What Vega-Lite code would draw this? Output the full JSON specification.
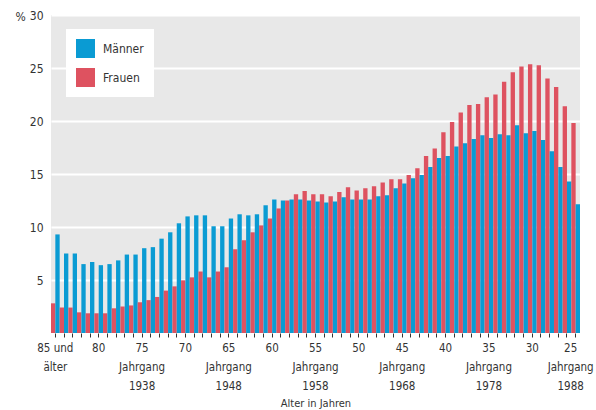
{
  "$schema": "https://vega.github.io/schema/vega-lite/v6.json",
  "width": 529,
  "height": 318,
  "autosize": {"type": "none"},
  "padding": {"left": 51, "top": 15, "right": 16, "bottom": 77},
  "background": "white",
  "config": {
    "font": "DejaVu Sans Condensed, Liberation Sans Narrow, Roboto, sans-serif",
    "view": {"fill": "#e8e8e8", "stroke": null},
    "axis": {"labelColor": "#333333", "titleColor": "#333333", "labelFont": "DejaVu Sans Condensed, Liberation Sans Narrow, Roboto, sans-serif", "titleFont": "DejaVu Sans Condensed, Liberation Sans Narrow, Roboto, sans-serif"},
    "legend": {"labelFont": "DejaVu Sans Condensed, Liberation Sans Narrow, Roboto, sans-serif"}
  },
  "data": {
    "values": [
      {"Alter": "85", "Geschlecht": "Frauen", "Anteil": 2.8}, {"Alter": "85", "Geschlecht": "Männer", "Anteil": 9.3},
      {"Alter": "84", "Geschlecht": "Frauen", "Anteil": 2.4}, {"Alter": "84", "Geschlecht": "Männer", "Anteil": 7.5},
      {"Alter": "83", "Geschlecht": "Frauen", "Anteil": 2.4}, {"Alter": "83", "Geschlecht": "Männer", "Anteil": 7.5},
      {"Alter": "82", "Geschlecht": "Frauen", "Anteil": 1.95}, {"Alter": "82", "Geschlecht": "Männer", "Anteil": 6.5},
      {"Alter": "81", "Geschlecht": "Frauen", "Anteil": 1.86}, {"Alter": "81", "Geschlecht": "Männer", "Anteil": 6.7},
      {"Alter": "80", "Geschlecht": "Frauen", "Anteil": 1.86}, {"Alter": "80", "Geschlecht": "Männer", "Anteil": 6.4},
      {"Alter": "79", "Geschlecht": "Frauen", "Anteil": 1.86}, {"Alter": "79", "Geschlecht": "Männer", "Anteil": 6.5},
      {"Alter": "78", "Geschlecht": "Frauen", "Anteil": 2.33}, {"Alter": "78", "Geschlecht": "Männer", "Anteil": 6.85},
      {"Alter": "77", "Geschlecht": "Frauen", "Anteil": 2.5}, {"Alter": "77", "Geschlecht": "Männer", "Anteil": 7.4},
      {"Alter": "76", "Geschlecht": "Frauen", "Anteil": 2.6}, {"Alter": "76", "Geschlecht": "Männer", "Anteil": 7.4},
      {"Alter": "75", "Geschlecht": "Frauen", "Anteil": 2.9}, {"Alter": "75", "Geschlecht": "Männer", "Anteil": 8.0},
      {"Alter": "74", "Geschlecht": "Frauen", "Anteil": 3.1}, {"Alter": "74", "Geschlecht": "Männer", "Anteil": 8.1},
      {"Alter": "73", "Geschlecht": "Frauen", "Anteil": 3.4}, {"Alter": "73", "Geschlecht": "Männer", "Anteil": 8.9},
      {"Alter": "72", "Geschlecht": "Frauen", "Anteil": 4.0}, {"Alter": "72", "Geschlecht": "Männer", "Anteil": 9.5},
      {"Alter": "71", "Geschlecht": "Frauen", "Anteil": 4.4}, {"Alter": "71", "Geschlecht": "Männer", "Anteil": 10.35},
      {"Alter": "70", "Geschlecht": "Frauen", "Anteil": 4.97}, {"Alter": "70", "Geschlecht": "Männer", "Anteil": 11.0},
      {"Alter": "69", "Geschlecht": "Frauen", "Anteil": 5.25}, {"Alter": "69", "Geschlecht": "Männer", "Anteil": 11.1},
      {"Alter": "68", "Geschlecht": "Frauen", "Anteil": 5.8}, {"Alter": "68", "Geschlecht": "Männer", "Anteil": 11.1},
      {"Alter": "67", "Geschlecht": "Frauen", "Anteil": 5.25}, {"Alter": "67", "Geschlecht": "Männer", "Anteil": 10.07},
      {"Alter": "66", "Geschlecht": "Frauen", "Anteil": 5.8}, {"Alter": "66", "Geschlecht": "Männer", "Anteil": 10.07},
      {"Alter": "65", "Geschlecht": "Frauen", "Anteil": 6.2}, {"Alter": "65", "Geschlecht": "Männer", "Anteil": 10.8},
      {"Alter": "64", "Geschlecht": "Frauen", "Anteil": 7.9}, {"Alter": "64", "Geschlecht": "Männer", "Anteil": 11.2},
      {"Alter": "63", "Geschlecht": "Frauen", "Anteil": 8.75}, {"Alter": "63", "Geschlecht": "Männer", "Anteil": 11.1},
      {"Alter": "62", "Geschlecht": "Frauen", "Anteil": 9.5}, {"Alter": "62", "Geschlecht": "Männer", "Anteil": 11.2},
      {"Alter": "61", "Geschlecht": "Frauen", "Anteil": 10.15}, {"Alter": "61", "Geschlecht": "Männer", "Anteil": 12.05},
      {"Alter": "60", "Geschlecht": "Frauen", "Anteil": 10.8}, {"Alter": "60", "Geschlecht": "Männer", "Anteil": 12.6},
      {"Alter": "59", "Geschlecht": "Frauen", "Anteil": 11.75}, {"Alter": "59", "Geschlecht": "Männer", "Anteil": 12.5},
      {"Alter": "58", "Geschlecht": "Frauen", "Anteil": 12.5}, {"Alter": "58", "Geschlecht": "Männer", "Anteil": 12.6},
      {"Alter": "57", "Geschlecht": "Frauen", "Anteil": 13.1}, {"Alter": "57", "Geschlecht": "Männer", "Anteil": 12.6},
      {"Alter": "56", "Geschlecht": "Frauen", "Anteil": 13.4}, {"Alter": "56", "Geschlecht": "Männer", "Anteil": 12.5},
      {"Alter": "55", "Geschlecht": "Frauen", "Anteil": 13.1}, {"Alter": "55", "Geschlecht": "Männer", "Anteil": 12.4},
      {"Alter": "54", "Geschlecht": "Frauen", "Anteil": 13.1}, {"Alter": "54", "Geschlecht": "Männer", "Anteil": 12.3},
      {"Alter": "53", "Geschlecht": "Frauen", "Anteil": 12.9}, {"Alter": "53", "Geschlecht": "Männer", "Anteil": 12.4},
      {"Alter": "52", "Geschlecht": "Frauen", "Anteil": 13.3}, {"Alter": "52", "Geschlecht": "Männer", "Anteil": 12.8},
      {"Alter": "51", "Geschlecht": "Frauen", "Anteil": 13.75}, {"Alter": "51", "Geschlecht": "Männer", "Anteil": 12.6},
      {"Alter": "50", "Geschlecht": "Frauen", "Anteil": 13.45}, {"Alter": "50", "Geschlecht": "Männer", "Anteil": 12.6},
      {"Alter": "49", "Geschlecht": "Frauen", "Anteil": 13.65}, {"Alter": "49", "Geschlecht": "Männer", "Anteil": 12.6},
      {"Alter": "48", "Geschlecht": "Frauen", "Anteil": 13.85}, {"Alter": "48", "Geschlecht": "Männer", "Anteil": 12.9},
      {"Alter": "47", "Geschlecht": "Frauen", "Anteil": 14.2}, {"Alter": "47", "Geschlecht": "Männer", "Anteil": 13.0},
      {"Alter": "46", "Geschlecht": "Frauen", "Anteil": 14.5}, {"Alter": "46", "Geschlecht": "Männer", "Anteil": 13.65},
      {"Alter": "45", "Geschlecht": "Frauen", "Anteil": 14.5}, {"Alter": "45", "Geschlecht": "Männer", "Anteil": 14.1},
      {"Alter": "44", "Geschlecht": "Frauen", "Anteil": 14.9}, {"Alter": "44", "Geschlecht": "Männer", "Anteil": 14.6},
      {"Alter": "43", "Geschlecht": "Frauen", "Anteil": 15.55}, {"Alter": "43", "Geschlecht": "Männer", "Anteil": 14.9},
      {"Alter": "42", "Geschlecht": "Frauen", "Anteil": 16.7}, {"Alter": "42", "Geschlecht": "Männer", "Anteil": 15.65},
      {"Alter": "41", "Geschlecht": "Frauen", "Anteil": 17.4}, {"Alter": "41", "Geschlecht": "Männer", "Anteil": 16.5},
      {"Alter": "40", "Geschlecht": "Frauen", "Anteil": 18.95}, {"Alter": "40", "Geschlecht": "Männer", "Anteil": 16.7},
      {"Alter": "39", "Geschlecht": "Frauen", "Anteil": 19.9}, {"Alter": "39", "Geschlecht": "Männer", "Anteil": 17.6},
      {"Alter": "38", "Geschlecht": "Frauen", "Anteil": 20.8}, {"Alter": "38", "Geschlecht": "Männer", "Anteil": 17.9},
      {"Alter": "37", "Geschlecht": "Frauen", "Anteil": 21.5}, {"Alter": "37", "Geschlecht": "Männer", "Anteil": 18.3},
      {"Alter": "36", "Geschlecht": "Frauen", "Anteil": 21.6}, {"Alter": "36", "Geschlecht": "Männer", "Anteil": 18.65},
      {"Alter": "35", "Geschlecht": "Frauen", "Anteil": 22.25}, {"Alter": "35", "Geschlecht": "Männer", "Anteil": 18.4},
      {"Alter": "34", "Geschlecht": "Frauen", "Anteil": 22.5}, {"Alter": "34", "Geschlecht": "Männer", "Anteil": 18.75},
      {"Alter": "33", "Geschlecht": "Frauen", "Anteil": 23.7}, {"Alter": "33", "Geschlecht": "Männer", "Anteil": 18.65},
      {"Alter": "32", "Geschlecht": "Frauen", "Anteil": 24.6}, {"Alter": "32", "Geschlecht": "Männer", "Anteil": 19.6},
      {"Alter": "31", "Geschlecht": "Frauen", "Anteil": 25.15}, {"Alter": "31", "Geschlecht": "Männer", "Anteil": 18.85},
      {"Alter": "30", "Geschlecht": "Frauen", "Anteil": 25.35}, {"Alter": "30", "Geschlecht": "Männer", "Anteil": 19.05},
      {"Alter": "29", "Geschlecht": "Frauen", "Anteil": 25.25}, {"Alter": "29", "Geschlecht": "Männer", "Anteil": 18.2},
      {"Alter": "28", "Geschlecht": "Frauen", "Anteil": 24.0}, {"Alter": "28", "Geschlecht": "Männer", "Anteil": 17.15},
      {"Alter": "27", "Geschlecht": "Frauen", "Anteil": 23.2}, {"Alter": "27", "Geschlecht": "Männer", "Anteil": 15.65},
      {"Alter": "26", "Geschlecht": "Frauen", "Anteil": 21.4}, {"Alter": "26", "Geschlecht": "Männer", "Anteil": 14.3},
      {"Alter": "25", "Geschlecht": "Frauen", "Anteil": 19.8}, {"Alter": "25", "Geschlecht": "Männer", "Anteil": 12.15}
    ]
  },
  "mark": {"type": "bar"},
  "encoding": {
    "x": {
      "field": "Alter",
      "type": "ordinal",
      "sort": "descending",
      "scale": {"paddingInner": 0, "paddingOuter": 0},
      "axis": {
        "title": "Alter in Jahren",
        "titleFontSize": 11,
        "titleFontWeight": "normal",
        "titlePadding": 6,
        "labelAngle": 0,
        "labelFontSize": 11.5,
        "labelLineHeight": 19,
        "labelPadding": 5,
        "labelOverlap": false,
        "labelBound": false,
        "labelBaseline": "top",
        "labelOffset": {"condition": {"test": "datum.value == '25'", "value": -5}, "value": 0},
        "domain": false,
        "ticks": true,
        "tickColor": "#333333",
        "tickSize": 4,
        "grid": false,
        "labelExpr": "datum.value == '85' ? ['85 und','älter'] : datum.value == '75' ? ['75','Jahrgang','1938'] : datum.value == '65' ? ['65','Jahrgang','1948'] : datum.value == '55' ? ['55','Jahrgang','1958'] : datum.value == '45' ? ['45','Jahrgang','1968'] : datum.value == '35' ? ['35','Jahrgang','1978'] : datum.value == '25' ? ['25','Jahrgang','1988'] : (toNumber(datum.value) % 5 == 0 ? datum.value : '')"
      }
    },
    "xOffset": {
      "field": "Geschlecht",
      "type": "nominal",
      "sort": ["Frauen", "Männer"],
      "scale": {"paddingInner": 0, "paddingOuter": 0}
    },
    "y": {
      "field": "Anteil",
      "type": "quantitative",
      "scale": {"domain": [0, 30], "nice": false},
      "axis": {
        "values": [5, 10, 15, 20, 25, 30],
        "title": "%",
        "titleAngle": 0,
        "titleX": -36,
        "titleY": 1,
        "titleAlign": "left",
        "titleBaseline": "middle",
        "titleFontSize": 12,
        "titleFontWeight": "normal",
        "labelFontSize": 12,
        "labelPadding": 8,
        "domain": false,
        "ticks": false,
        "grid": true,
        "gridColor": "white",
        "gridWidth": 2,
        "gridOpacity": 1
      }
    },
    "color": {
      "field": "Geschlecht",
      "type": "nominal",
      "scale": {"domain": ["Männer", "Frauen"], "range": ["#0a9bd3", "#de5260"]},
      "legend": {
        "title": null,
        "orient": "none",
        "legendX": 15,
        "legendY": 14,
        "padding": 10,
        "fillColor": "white",
        "symbolType": "square",
        "symbolSize": 361,
        "symbolStrokeWidth": 0,
        "symbolOpacity": 1,
        "rowPadding": 10,
        "labelOffset": 8,
        "labelFontSize": 12,
        "labelColor": "#333333"
      }
    }
  }
}
